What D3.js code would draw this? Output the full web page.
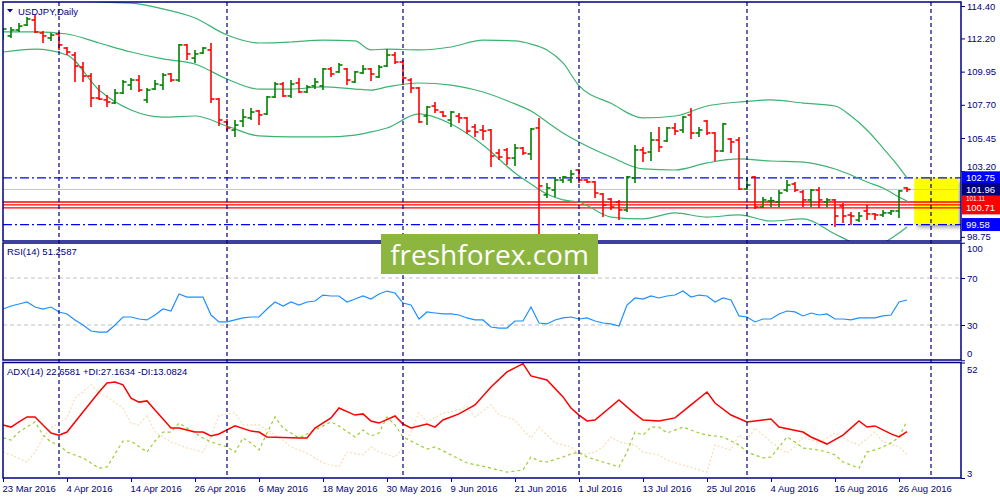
<!DOCTYPE html>
<html>
<head>
<meta charset="utf-8">
<script src="https://cdn.jsdelivr.net/npm/d3@7"></script>
<style>
  body { margin: 0; background: #fff; }
  svg { display: block; }
</style>
</head>
<body>
<script>
var width = 1000,
    height = 500;

// ---- values ----
var dateIdx = [0, 8, 16, 24, 32, 40, 48, 56, 64, 72, 80, 88, 96, 104, 112];
var dateLabels = ["23 Mar 2016", "4 Apr 2016", "14 Apr 2016", "26 Apr 2016", "6 May 2016",
    "18 May 2016", "30 May 2016", "9 Jun 2016", "21 Jun 2016", "1 Jul 2016", "13 Jul 2016",
    "25 Jul 2016", "4 Aug 2016", "16 Aug 2016", "26 Aug 2016"];
var monthIdx = [7, 28, 50, 72, 93, 116];   // first bar of each month
// 100.95 sits fully under the red price tags, so it is left out
var priceTicks = [114.40, 112.20, 109.95, 107.70, 105.45, 103.20, 98.75];

var open = [112.37,112.37,112.77,113.11,113.45,112.57,112.23,112.50,111.55,111.08,
    110.26,109.65,108.16,108.03,107.82,108.50,109.04,109.38,108.03,108.77,
    109.04,109.79,109.38,111.76,110.87,111.21,111.42,108.09,106.54,105.99,
    106.60,106.81,107.28,107.08,108.23,109.11,108.30,109.18,108.57,108.98,
    108.98,110.13,109.93,110.13,109.25,109.86,110.13,109.59,110.33,111.08,
    110.60,109.38,108.84,106.94,107.62,107.21,106.67,106.94,106.81,106.20,
    105.99,105.99,104.43,104.64,104.09,104.77,104.37,106.13,101.59,101.92,
    102.60,102.60,103.28,102.60,102.47,101.65,101.31,101.11,100.57,102.74,
    104.64,104.50,105.31,105.25,106.13,105.99,107.01,105.79,106.60,105.79,
    104.57,105.38,105.31,101.99,102.81,100.77,101.18,101.11,101.92,102.33,
    101.79,101.25,101.92,101.11,101.25,100.84,100.23,99.89,100.50,100.30,
    100.23,100.37,100.50,102.06];
var high = [112.91,112.98,113.25,113.65,113.79,112.70,112.57,112.64,111.62,111.28,
    110.60,109.86,109.04,108.37,108.77,109.38,109.52,109.72,108.84,109.38,
    109.86,109.86,111.82,111.82,111.42,111.62,111.89,108.16,106.74,106.67,
    107.42,107.48,107.35,108.30,109.25,109.25,109.38,109.52,109.04,109.52,
    110.20,110.26,110.54,110.20,109.99,110.40,110.20,110.40,111.48,111.28,
    110.74,109.52,108.91,107.62,107.89,107.28,107.28,107.15,106.87,106.40,
    106.33,106.06,104.70,104.77,105.04,104.84,106.13,106.81,102.40,102.81,
    102.87,103.28,103.35,102.67,102.54,101.72,101.38,101.25,102.87,104.98,
    104.84,105.86,106.20,106.20,106.47,106.94,107.48,106.20,106.67,105.86,
    106.47,105.45,105.52,102.74,102.87,101.45,101.45,101.92,102.60,102.47,
    101.92,101.99,102.13,101.38,101.31,101.04,100.43,100.43,100.91,100.37,
    100.57,100.57,101.92,102.13];
var low = [112.09,112.23,112.64,113.04,112.57,111.89,112.03,111.42,111.08,109.25,
    109.25,107.55,108.03,107.55,107.75,108.43,108.70,108.57,107.82,108.70,
    108.70,109.25,109.25,110.74,110.54,111.15,107.82,106.26,105.92,105.52,
    106.20,106.67,106.33,107.01,108.16,108.23,108.16,108.50,108.50,108.77,
    108.70,109.59,109.86,109.04,109.18,109.79,109.31,109.52,110.26,110.47,
    109.04,108.50,106.47,106.33,107.15,106.87,106.20,106.47,105.72,105.52,
    105.31,103.48,103.96,103.62,103.55,104.30,103.96,98.94,101.38,101.45,
    102.40,102.40,102.40,102.40,101.38,100.09,100.57,99.89,100.43,102.40,
    103.82,103.89,104.50,105.18,105.65,105.79,105.38,105.52,105.65,103.89,
    104.50,104.43,101.92,101.92,100.64,100.70,100.77,100.77,101.79,101.79,
    100.77,100.77,100.70,100.77,99.42,99.69,99.55,99.75,99.89,99.89,
    100.09,100.23,100.03,101.79];
var close = [112.84,112.77,113.04,113.52,112.64,112.37,112.43,111.76,111.28,110.33,
    109.65,108.16,108.09,107.89,108.50,109.25,109.38,108.70,108.70,109.11,
    109.72,109.38,111.76,111.15,111.15,111.55,108.09,106.67,106.13,106.33,
    106.87,107.21,107.01,108.23,109.11,108.30,109.11,108.57,108.91,109.25,
    110.13,109.79,110.40,109.38,109.93,110.13,109.79,110.26,111.08,110.60,
    109.52,108.84,106.54,107.55,107.35,106.94,107.21,106.81,105.92,105.86,
    105.92,104.23,104.16,104.09,104.77,104.43,106.06,102.20,102.06,102.60,
    102.81,103.01,102.60,102.47,101.72,100.91,100.77,100.57,102.81,104.64,
    104.43,105.31,104.84,106.13,105.92,106.87,105.79,105.99,105.79,104.57,
    106.40,105.18,101.99,102.26,100.77,101.25,101.20,101.72,102.26,101.92,
    101.25,101.92,101.25,101.25,100.16,100.16,100.16,100.16,100.30,100.23,
    100.37,100.50,101.86,101.96];

// Bollinger bands, read at these bars
var bandIdx = [0,4,8,12,16,20,24,28,32,36,40,44,46,48,52,56,60,64,66,68,70,72,76,80,84,88,92,96,100,104,106,108,110,112,113];
var bandUpper = [116.84,116.16,115.08,114.67,114.60,114.20,113.59,112.43,111.89,111.96,112.09,112.03,111.42,111.48,111.42,111.62,112.09,112.03,111.82,111.42,110.54,109.00,107.80,106.81,106.94,107.62,107.89,108.03,107.82,107.62,106.94,105.99,104.77,103.48,102.74];
var bandMid = [112.64,112.64,112.50,111.89,111.28,110.81,110.47,109.45,108.77,108.77,108.91,108.77,108.70,108.91,109.18,109.04,108.57,107.76,107.28,106.54,105.79,105.18,104.16,103.35,103.28,103.76,104.03,103.89,103.82,103.35,102.94,102.47,102.06,101.45,101.18];
var bandLower = [111.28,111.48,111.08,108.70,107.35,106.87,106.94,106.26,105.59,105.52,105.52,105.65,105.86,106.13,107.08,106.40,104.98,103.08,102.33,101.65,101.25,101.11,100.09,99.96,100.37,100.09,100.23,99.82,99.96,98.94,98.41,98.01,98.33,99.01,99.42];

var rsi = [43.6,46.2,47.9,49.6,45.3,43.6,45.3,41.1,39.4,34.3,
    30.0,24.9,24.0,24.0,30.0,36.8,36.8,35.1,34.3,38.5,
    43.6,41.9,56.4,53.8,53.8,53.8,38.5,32.6,32.6,34.3,
    36.0,36.8,36.8,43.6,49.6,46.2,49.6,47.0,49.6,50.4,
    55.5,54.7,54.7,49.6,52.1,54.7,52.1,56.4,58.9,57.2,
    48.7,47.0,35.1,41.1,40.2,39.4,39.4,38.5,36.0,34.3,
    34.3,28.3,27.4,27.4,33.4,33.4,45.3,31.7,30.9,34.3,
    36.0,36.8,35.1,36.0,33.4,31.7,30.9,29.1,47.0,53.0,
    52.1,54.7,53.0,54.7,55.5,58.9,53.8,55.5,54.7,49.6,
    53.0,51.3,37.7,36.8,32.6,35.1,35.1,39.4,41.9,41.1,
    37.7,40.2,38.5,39.4,35.1,35.1,34.3,36.0,36.0,36.0,
    37.7,38.5,49.6,51.26];
var rsiLevels = [70, 30];
var rsiTicks = [100, 70, 30, 0];

var adxIdx = [0,1,2,3,4,5,6,7,8,10,12,13,14,15,16,17,18,19,21,22,24,25,26,27,29,31,32,33,37,38,39,41,42,44,45,46,47,49,50,51,53,54,55,57,59,61,63,65,66,68,70,71,72,73,74,77,79,80,82,84,86,88,89,91,93,95,96,97,100,101,103,105,107,108,109,111,112,113];
var adxVal = [25.5,24.6,26.8,28.9,28.9,25.5,22.1,21.2,22.5,31.0,39.5,43.3,43.7,42.5,36.9,35.2,35.7,31.9,24.2,24.2,22.5,22.5,20.8,21.7,25.1,22.9,22.5,20.4,20.0,20.0,24.2,28.5,32.7,29.7,30.2,27.2,26.3,29.3,25.9,24.2,25.9,24.6,27.6,30.2,34.0,41.6,48.0,51.5,46.3,44.6,37.4,32.7,29.7,27.2,27.6,36.1,30.2,27.6,27.2,28.5,34.0,39.5,34.8,29.7,26.8,27.6,28.0,24.6,22.5,20.4,17.4,21.2,27.2,24.6,25.1,21.7,20.4,22.66];
var pdiIdx = [0,1,2,4,5,6,7,8,10,12,13,15,16,18,19,20,21,22,23,25,26,28,29,30,31,32,33,34,35,37,39,41,42,44,45,46,47,48,49,50,52,53,54,56,58,61,63,65,66,67,68,70,71,72,73,75,77,78,79,80,81,82,83,85,87,88,90,92,93,95,96,98,99,100,102,103,104,105,106,107,108,109,110,111,112,113];
var pdiVal = [20.0,19.1,22.5,26.8,21.2,18.3,17.0,14.0,11.5,7.2,7.7,18.7,18.7,14.0,18.7,22.5,22.5,26.3,24.2,20.0,18.3,16.2,14.0,20.0,17.9,14.9,22.1,28.9,24.2,20.0,23.4,26.8,25.1,20.4,23.4,20.8,22.1,28.9,25.5,20.4,17.0,15.3,16.2,12.8,9.4,7.2,5.5,6.4,11.9,10.2,9.8,11.9,13.2,14.0,11.9,9.8,7.7,14.0,22.5,21.2,24.6,24.6,22.1,24.6,22.1,21.2,20.4,17.0,14.0,11.5,11.9,20.4,18.3,15.7,14.9,14.0,12.8,9.8,8.5,7.2,14.0,14.9,16.2,17.9,20.4,27.16];
var mdiIdx = [0,1,3,4,5,6,8,9,11,12,13,15,16,17,18,19,21,23,25,26,27,29,30,32,33,35,36,38,40,42,43,45,46,47,49,50,51,52,53,55,56,58,59,61,62,64,65,66,67,69,71,72,74,75,76,77,79,80,82,83,85,88,89,91,92,93,94,96,97,98,99,100,102,103,104,106,107,109,110,112,113];
var mdiVal = [14.0,12.8,9.8,14.0,20.0,24.2,28.5,36.9,42.5,39.1,37.4,32.7,26.3,25.5,29.7,22.5,18.3,15.7,14.0,20.4,29.7,30.6,25.5,25.5,23.4,19.1,16.2,13.6,9.4,7.7,14.0,12.8,16.2,14.0,11.9,15.7,22.5,30.6,26.8,30.6,31.0,33.1,28.9,34.0,29.7,27.6,23.4,20.0,24.6,17.9,16.2,12.8,14.0,16.2,20.4,18.3,17.0,14.0,12.8,10.6,8.5,5.5,17.0,14.9,21.2,19.1,24.2,18.3,15.7,13.6,16.2,20.4,17.9,20.0,22.1,18.3,17.0,22.5,18.3,16.2,13.08];
var adxTicks = [52, 3];

// horizontal levels and the marked zone
var blueLevels = [102.75, 99.58];
var redLevels = [101.11, 100.91, 100.71];
var bidPrice = 101.96;
var zone = { from: 113.9, to: 119.4, top: 102.75, bottom: 99.58 };
var priceTags = [
    { p: 102.75, fill: "#0000ff", text: "102.75" },
    { p: 101.96, fill: "#000080", text: "101.96" },
    { p: 101.11, fill: "#ff0000", text: "101.11" },
    { p: 100.71, fill: "#ff0000", text: "100.71" },
    { p: 99.58, fill: "#0000ff", text: "99.58" }
];

// ---- layout ----
var navy = "#000080",
    font = "'Liberation Sans', Arial, sans-serif",
    fontSize = 9.5,
    L = 3, R = 961, tagH = 13;
var mainP = [2, 241], rsiP = [243, 360], adxP = [362.5, 478];

var x = d3.scaleLinear().domain([0, 119]).range([3, 955]);
var yPrice = d3.scaleLinear().domain([98.75, 114.40]).range([236.8, 6]);
var yRsi = d3.scaleLinear().domain([0, 100]).range([360.25, 242.75]);
var yAdx = d3.scaleLinear().domain([3, 52]).range([478, 362.5]);

var svg = d3.select("body").append("svg")
    .attr("width", width)
    .attr("height", height)
    .style("background", "#fff");

var defs = svg.append("defs");
[["clipMain", mainP], ["clipRsi", rsiP], ["clipAdx", adxP]].forEach(function (c) {
    defs.append("clipPath").attr("id", c[0]).append("rect")
        .attr("x", L).attr("y", c[1][0]).attr("width", R - L).attr("height", c[1][1] - c[1][0]);
});
defs.append("filter").attr("id", "shadow")
    .attr("x", "-20%").attr("y", "-20%").attr("width", "160%").attr("height", "160%")
    .append("feDropShadow")
    .attr("dx", 3).attr("dy", 3).attr("stdDeviation", 2)
    .attr("flood-color", "#000").attr("flood-opacity", 0.35);

/* main price panel */
var main = svg.append("g").attr("clip-path", "url(#clipMain)");

main.append("rect")
    .attr("x", x(zone.from))
    .attr("y", yPrice(zone.top))
    .attr("width", x(zone.to) - x(zone.from))
    .attr("height", yPrice(zone.bottom) - yPrice(zone.top))
    .attr("fill", "#ffff00")
    .attr("filter", "url(#shadow)");

main.append("line")
    .attr("x1", L).attr("x2", R)
    .attr("y1", yPrice(bidPrice)).attr("y2", yPrice(bidPrice))
    .attr("stroke", "#c8c8c8");

main.selectAll(".red-level").data(redLevels).enter().append("line")
    .attr("x1", L).attr("x2", R)
    .attr("y1", function (d) { return yPrice(d) })
    .attr("y2", function (d) { return yPrice(d) })
    .attr("stroke", "#ff0000")
    .attr("stroke-width", 1.3);

main.selectAll(".blue-level").data(blueLevels).enter().append("line")
    .attr("x1", L).attr("x2", R)
    .attr("y1", function (d) { return yPrice(d) })
    .attr("y2", function (d) { return yPrice(d) })
    .attr("stroke", "#0000ff")
    .attr("stroke-width", 1.2)
    .attr("stroke-dasharray", "9,3,2,3");

var bandLine = d3.line()
    .x(function (d) { return x(d[0]) })
    .y(function (d) { return yPrice(d[1]) })
    .curve(d3.curveMonotoneX);

[bandUpper, bandMid, bandLower].forEach(function (band) {
    main.append("path")
        .datum(d3.zip(bandIdx, band))
        .attr("d", bandLine)
        .attr("fill", "none")
        .attr("stroke", "#3cb371")
        .attr("stroke-width", 1.2);
});

/* OHLC bars */
var bars = main.selectAll(".bar")
    .data(d3.range(open.length))
    .enter()
    .append("g")
    .attr("stroke", function (i) { return close[i] >= open[i] ? "#008000" : "#ff0000" })
    .attr("stroke-width", 1.6);

bars.append("line")
    .attr("x1", function (i) { return x(i) })
    .attr("x2", function (i) { return x(i) })
    .attr("y1", function (i) { return yPrice(high[i]) })
    .attr("y2", function (i) { return yPrice(low[i]) });

bars.append("line")
    .attr("x1", function (i) { return x(i) - 3.5 })
    .attr("x2", function (i) { return x(i) })
    .attr("y1", function (i) { return yPrice(open[i]) })
    .attr("y2", function (i) { return yPrice(open[i]) });

bars.append("line")
    .attr("x1", function (i) { return x(i) })
    .attr("x2", function (i) { return x(i) + 3.5 })
    .attr("y1", function (i) { return yPrice(close[i]) })
    .attr("y2", function (i) { return yPrice(close[i]) });

/* RSI panel */
var rsiG = svg.append("g").attr("clip-path", "url(#clipRsi)");

rsiG.selectAll(".lvl").data(rsiLevels).enter().append("line")
    .attr("x1", L).attr("x2", R)
    .attr("y1", function (d) { return yRsi(d) })
    .attr("y2", function (d) { return yRsi(d) })
    .attr("stroke", "#c0c0c0")
    .attr("stroke-dasharray", "4,3");

rsiG.append("path")
    .datum(rsi)
    .attr("d", d3.line()
        .x(function (d, i) { return x(i) })
        .y(function (d) { return yRsi(d) }))
    .attr("fill", "none")
    .attr("stroke", "#1e90ff")
    .attr("stroke-width", 1.2);

/* ADX panel */
var adxG = svg.append("g").attr("clip-path", "url(#clipAdx)");
var adxLine = d3.line()
    .x(function (d) { return x(d[0]) })
    .y(function (d) { return yAdx(d[1]) });

adxG.append("path")
    .datum(d3.zip(mdiIdx, mdiVal))
    .attr("d", adxLine)
    .attr("fill", "none")
    .attr("stroke", "#f5deb3")
    .attr("stroke-width", 1.2)
    .attr("stroke-dasharray", "2,2");

adxG.append("path")
    .datum(d3.zip(pdiIdx, pdiVal))
    .attr("d", adxLine)
    .attr("fill", "none")
    .attr("stroke", "#9acd32")
    .attr("stroke-width", 1.2)
    .attr("stroke-dasharray", "3,3");

adxG.append("path")
    .datum(d3.zip(adxIdx, adxVal))
    .attr("d", adxLine)
    .attr("fill", "none")
    .attr("stroke", "#ff0000")
    .attr("stroke-width", 1.5);

/* month separators through every panel */
svg.selectAll(".month").data(monthIdx).enter().append("line")
    .attr("x1", function (d) { return x(d) })
    .attr("x2", function (d) { return x(d) })
    .attr("y1", mainP[0]).attr("y2", adxP[1])
    .attr("stroke", navy)
    .attr("stroke-width", 1.2)
    .attr("stroke-dasharray", "4,3");

/* panel frames */
[mainP, rsiP, adxP].forEach(function (p) {
    svg.append("rect")
        .attr("x", L).attr("y", p[0])
        .attr("width", R - L).attr("height", p[1] - p[0])
        .attr("fill", "none")
        .attr("stroke", navy)
        .attr("stroke-width", 1.5);
});

/* axes */
function styleAxis(g) {
    g.select(".domain").remove();
    g.attr("font-family", font).attr("font-size", fontSize);
    g.selectAll("line").attr("stroke", navy);
    g.selectAll("text").attr("fill", navy);
}

// a price label that would run into a price tag is nudged away from it
svg.append("g")
    .attr("transform", "translate(" + R + ",0)")
    .call(d3.axisRight(yPrice).tickValues(priceTicks).tickFormat(d3.format(".2f")).tickSize(4).tickPadding(2))
    .call(styleAxis)
    .selectAll("text")
    .attr("y", function (v) {
        var shift = 0;
        priceTags.forEach(function (t) {
            var dist = yPrice(v) - yPrice(t.p);
            if (Math.abs(dist) < 11) shift = (dist < 0 ? -1 : 1) * (11 - Math.abs(dist));
        });
        return shift;
    });

svg.append("g")
    .attr("transform", "translate(" + R + ",0)")
    .call(d3.axisRight(yRsi).tickValues(rsiTicks).tickFormat(d3.format("d")).tickSize(4).tickPadding(2))
    .call(styleAxis)
    .selectAll("text")
    .attr("y", function (d) { return d === 100 ? 6 : d === 0 ? -7 : 0 });

svg.append("g")
    .attr("transform", "translate(" + R + ",0)")
    .call(d3.axisRight(yAdx).tickValues(adxTicks).tickFormat(d3.format("d")).tickSize(4).tickPadding(2))
    .call(styleAxis)
    .selectAll("text")
    .attr("y", function (d) { return d === 52 ? 6.5 : -5 });

svg.append("g")
    .attr("transform", "translate(0," + adxP[1] + ")")
    .call(d3.axisBottom(x).tickValues(dateIdx)
        .tickFormat(function (d, i) { return dateLabels[i] })
        .tickSize(4).tickPadding(3))
    .call(styleAxis)
    .selectAll("text")
    .attr("text-anchor", "start")
    .attr("x", -1);

/* price tags on the right scale; a tag mostly covered by the next one
   gets its label squeezed into the strip that stays visible */
priceTags.forEach(function (d, i) {
    var top = yPrice(d.p) - tagH / 2;
    var next = priceTags[i + 1];
    var visible = tagH;
    if (next && yPrice(next.p) - tagH / 2 < top + tagH) visible = yPrice(next.p) - tagH / 2 - top;
    var squeezed = visible < tagH - 3;
    var g = svg.append("g");
    g.append("rect")
        .attr("x", R + 1).attr("y", top)
        .attr("width", width - R - 1).attr("height", tagH)
        .attr("fill", d.fill);
    g.append("text")
        .attr("x", R + 5)
        .attr("y", squeezed ? top + visible / 2 : yPrice(d.p))
        .attr("dy", "0.35em")
        .attr("fill", "#fff")
        .attr("font-family", font)
        .attr("font-size", squeezed ? Math.max(5, visible + 0.5) : fontSize)
        .text(d.text);
});

/* panel titles */
svg.append("path")
    .attr("d", "M7,9 L13,9 L10,12.5 Z")
    .attr("fill", navy);

var titles = [
    { x: 18, y: 14.5, t: "USDJPY,Daily" },
    { x: 7, y: 254.5, t: "RSI(14) 51.2587" },
    { x: 7, y: 374.5, t: "ADX(14) 22.6581 +DI:27.1634 -DI:13.0824" }
];
svg.selectAll(".title").data(titles).enter().append("text")
    .attr("x", function (d) { return d.x })
    .attr("y", function (d) { return d.y })
    .attr("fill", navy)
    .attr("font-family", font)
    .attr("font-size", fontSize)
    .text(function (d) { return d.t });

/* watermark */
svg.append("rect")
    .attr("x", 381).attr("y", 234)
    .attr("width", 217).attr("height", 40)
    .attr("fill", "#8db640");
svg.append("text")
    .attr("x", 489.5).attr("y", 264.5)
    .attr("text-anchor", "middle")
    .attr("fill", "#fff")
    .attr("font-family", "'Open Sans', sans-serif")
    .attr("font-size", 28)
    .text("freshforex.com");
</script>
</body>
</html>
